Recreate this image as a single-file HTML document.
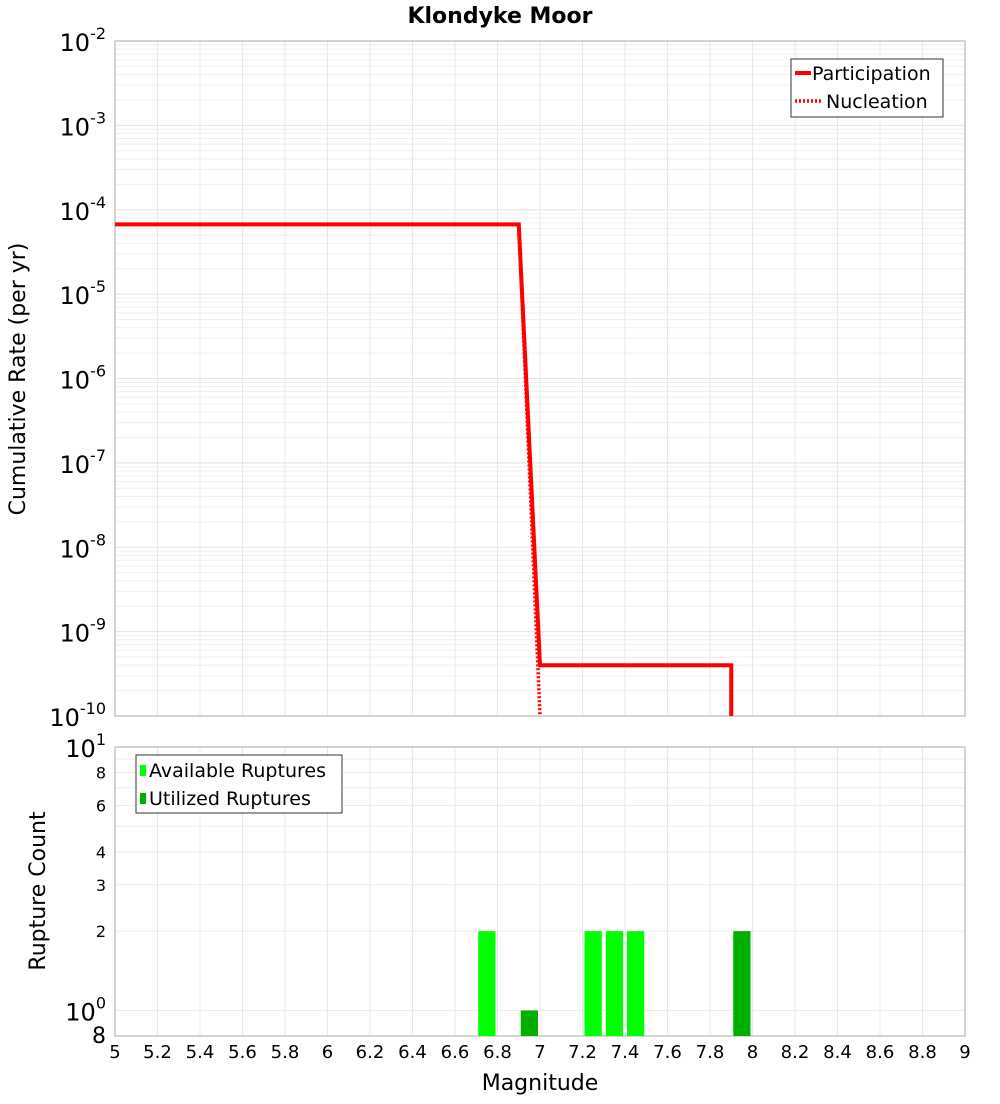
<!DOCTYPE html>
<html><head><meta charset="utf-8"><style>
body{margin:0;background:#fff;font-family:"DejaVu Sans","Liberation Sans",sans-serif}
svg text{font-family:"DejaVu Sans","Liberation Sans",sans-serif}
</style></head><body>
<svg id="c" width="1000" height="1100" xmlns="http://www.w3.org/2000/svg"></svg>
<script>
const partMag=[5,6.9,7.0,7.9,7.9];
const partRate=[6.7e-5,6.7e-5,4.0e-10,4.0e-10,1e-10];
const nuclMag=[5,6.9,7.0];
const nuclRate=[6.7e-5,6.7e-5,1e-10];
const availMag=[6.75,7.25,7.35,7.45];
const availCount=[2,2,2,2];
const usedMag=[6.95,7.95];
const usedCount=[1,2];
const xTicks=[5,5.2,5.4,5.6,5.8,6,6.2,6.4,6.6,6.8,7,7.2,7.4,7.6,7.8,8,8.2,8.4,8.6,8.8,9];
const topExp=[-2,-3,-4,-5,-6,-7,-8,-9,-10];
const botTicks=[8,6,4,3,2];

const S=document.getElementById('c');const NS='http://www.w3.org/2000/svg';
function mk(t,a,p){const e=document.createElementNS(NS,t);for(const k in a)e.setAttribute(k,a[k]);(p||S).appendChild(e);return e;}
const L=115,R=965,T1=41,B1=716,T2=747,B2=1036;
const X=m=>L+(m-5)/4*(R-L);
const Y1=v=>T1+(-2-Math.log10(v))/8*(B1-T1);
const Y2=v=>T2+(1-Math.log10(v))/Math.log10(12.5)*(B2-T2);
for(let e=-10;e<-2;e++)for(let k=1;k<10;k++){const y=Y1(k*Math.pow(10,e));const g=mk('line',{x1:L,x2:R,y1:y,y2:y,stroke:k==1?'#e2e2e2':'#efefef','stroke-width':1});}
xTicks.forEach(m=>{[[T1,B1],[T2,B2]].forEach(([a,b])=>{const g=mk('line',{x1:X(m),x2:X(m),y1:a,y2:b,stroke:'#e8e8e8'});});});
[1,2,3,4,5,6,7,8,9,10].forEach(v=>{const y=Y2(v);const g=mk('line',{x1:L,x2:R,y1:y,y2:y,stroke:'#ececec'});});
let f=mk('rect',{x:L,y:T1,width:R-L,height:B1-T1,fill:'none',stroke:'#aaa'});
f=mk('rect',{x:L,y:T2,width:R-L,height:B2-T2,fill:'none',stroke:'#aaa'});
const bw=(X(0.1)-X(0))-4;
function bars(ms,cs,col,nm){ms.forEach((m,i)=>{const y=Y2(cs[i]);const r=mk('rect',{x:X(m)-bw/2,y:y,width:bw,height:B2-y,fill:col});});}
bars(availMag,availCount,'#00ff00','available-bar');
bars(usedMag,usedCount,'#00b000','utilized-bar');
function pts(ms,rs){return ms.map((m,i)=>X(m)+','+Math.min(Y1(rs[i]),B1)).join(' ');}
let p=mk('polyline',{points:pts(nuclMag,nuclRate),fill:'none',stroke:'#f00','stroke-width':3.5,'stroke-dasharray':'2,2'});
p=mk('polyline',{points:pts(partMag,partRate),fill:'none',stroke:'#f00','stroke-width':4});
xTicks.forEach(m=>{const t=mk('text',{x:X(m),y:1058,'font-size':18,'text-anchor':'middle',fill:'#000'});t.textContent=String(m);});
topExp.forEach(e=>{const y=Y1(Math.pow(10,e));const t=mk('text',{x:106,y:y+10,'font-size':24,'text-anchor':'end',fill:'#000'});t.innerHTML='10<tspan dy="-12" font-size="16">'+e+'</tspan>';});
let t=mk('text',{x:106,y:T2+10,'font-size':24,'text-anchor':'end'});t.innerHTML='10<tspan dy="-12" font-size="16">1</tspan>';
t=mk('text',{x:106,y:Y2(1)+10,'font-size':24,'text-anchor':'end'});t.innerHTML='10<tspan dy="-12" font-size="16">0</tspan>';
botTicks.forEach(v=>{const t=mk('text',{x:106,y:Y2(v)+6,'font-size':16,'text-anchor':'end'});t.textContent=v;});
t=mk('text',{x:106,y:1043,'font-size':22,'text-anchor':'end'});t.textContent='8';
t=mk('text',{x:500,y:23,'font-size':22,'font-weight':'bold','text-anchor':'middle'});t.textContent='Klondyke Moor';
t=mk('text',{x:540,y:1090,'font-size':22,'text-anchor':'middle'});t.textContent='Magnitude';
t=mk('text',{x:0,y:0,'font-size':22,'text-anchor':'middle',transform:'translate(25,379) rotate(-90)'});t.textContent='Cumulative Rate (per yr)';
t=mk('text',{x:0,y:0,'font-size':22,'text-anchor':'middle',transform:'translate(45,891) rotate(-90)'});t.textContent='Rupture Count';
let g=mk('g',{});
mk('rect',{x:791,y:59,width:152,height:58,fill:'#fff',stroke:'#333'},g);
mk('line',{x1:795,x2:811,y1:73,y2:73,stroke:'#f00','stroke-width':4},g);
mk('line',{x1:795,x2:822,y1:101,y2:101,stroke:'#f00','stroke-width':3.5,'stroke-dasharray':'2,2'},g);
t=mk('text',{x:812,y:80,'font-size':19},g);t.textContent='Participation';
t=mk('text',{x:826,y:108,'font-size':19},g);t.textContent='Nucleation';
g=mk('g',{});
mk('rect',{x:136,y:755,width:206,height:58,fill:'#fff',stroke:'#333'},g);
mk('rect',{x:140,y:765,width:6,height:11,fill:'#00ff00'},g);
mk('rect',{x:140,y:793,width:6,height:11,fill:'#00b000'},g);
t=mk('text',{x:149,y:777,'font-size':19},g);t.textContent='Available Ruptures';
t=mk('text',{x:149,y:805,'font-size':19},g);t.textContent='Utilized Ruptures';
</script>
</body></html>
